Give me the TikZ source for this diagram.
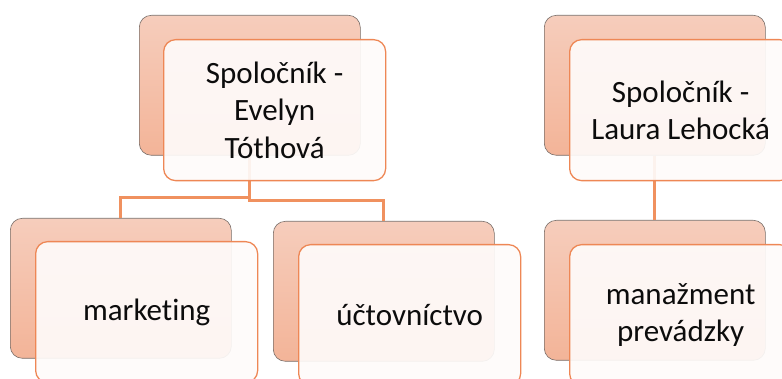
\documentclass[tikz,border=0pt]{standalone}
\usepackage{fontspec}
\setmainfont{Carlito}[Ligatures=NoCommon]
\definecolor{backtop}{RGB}{246,205,188}
\definecolor{backbot}{RGB}{243,180,152}
\definecolor{backline}{RGB}{120,110,105}
\definecolor{frontline}{RGB}{238,135,85}
\definecolor{connline}{RGB}{240,145,95}
\definecolor{frontfill}{RGB}{254,251,250}
\definecolor{txt}{RGB}{12,12,12}
\tikzset{
  backbox/.style={draw=backline, line width=0.6pt, rounded corners=12pt,
    top color=backtop, bottom color=backbot, minimum width=221pt,
    minimum height=140pt, inner sep=0pt, anchor=north west},
  frontbox/.style={draw=frontline, line width=1.3pt, rounded corners=12pt,
    fill=frontfill, fill opacity=0.92, text opacity=1, text=txt,
    minimum width=222pt, minimum height=141pt, inner sep=0pt,
    anchor=north west, align=center,
    font=\fontsize{31}{37.5}\selectfont},
  conn/.style={draw=connline, line width=3pt}
}
\begin{document}
\begin{tikzpicture}[x=1pt,y=-1pt]
\useasboundingbox (0,0) rectangle (782,379);
\clip (0,0) rectangle (782,379);
% back boxes
\node[backbox] (bA) at (139,15) {};
\node[backbox] (bB) at (10,218) {};
\node[backbox] (bC) at (273,221) {};
\node[backbox] (bD) at (544,15) {};
\node[backbox] (bE) at (544,220) {};
% connectors
\draw[conn] (bA.south) -- (bA.south |- 0,198) -| (bB.north);
\draw[conn] (bA.south) -- (bA.south |- 0,201) -| (bC.north);
\draw[conn] (bD.south) -- (bE.north);
% front boxes
\node[frontbox] (fA) at (163,39) {Spoločník -\\Evelyn\\Tóthová};
\node[frontbox] (fB) at (35,241) {marketing};
\node[frontbox] (fC) at (298,244) {účtovníctvo};
\node[frontbox] (fD) at (569,39) {Spoločník -\\Laura Lehocká};
\node[frontbox] (fE) at (569,244) {manažment\\prevádzky};
\end{tikzpicture}
\end{document}
